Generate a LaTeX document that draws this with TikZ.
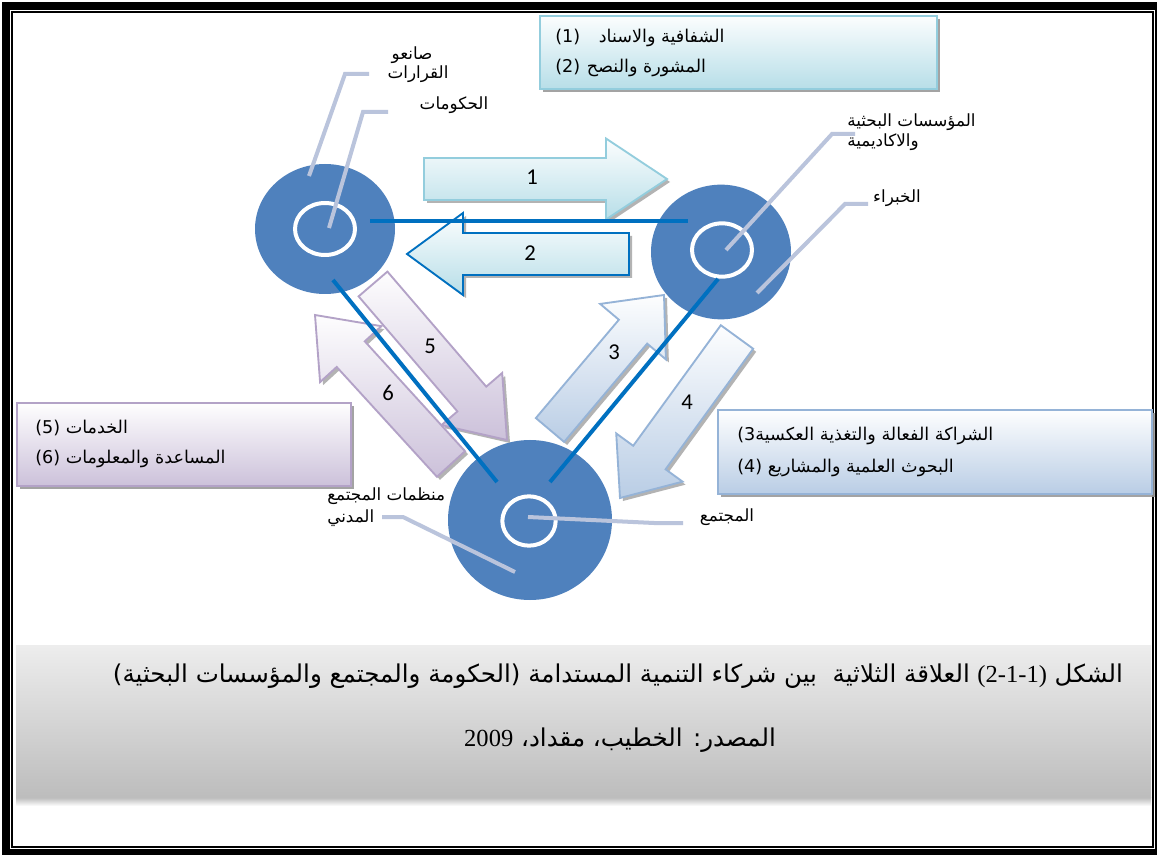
\documentclass[tikz,border=0pt]{standalone}
\usepackage{fontspec}
\newfontfamily\arabicfont[Script=Arabic]{DejaVu Sans}
\newfontfamily\latinsans{DejaVu Sans}
\newfontfamily\latinserif{Liberation Serif}
\newfontfamily\numfont{Carlito}
\TeXXeTstate=1
\usetikzlibrary{shapes.geometric,shadows}

\definecolor{hubblue}{HTML}{4F81BD}
\definecolor{linkblue}{HTML}{0070C0}
\definecolor{callgray}{HTML}{BAC4DC}
\definecolor{aquaL}{HTML}{B7DEE8}
\definecolor{aquaD}{HTML}{93CDDD}
\definecolor{lilacL}{HTML}{CCC1DA}
\definecolor{lilacD}{HTML}{B3A2C7}
\definecolor{steelL}{HTML}{B9CDE5}
\definecolor{steelD}{HTML}{95B3D7}
\definecolor{shadowgray}{HTML}{9A9A9A}

% block arrow: name, style, tail x, tail y, tip x, tip y, body width, head width, head length
\newcommand\blockarrow[9]{%
  \pgfmathsetmacro\baDX{#5-#3}%
  \pgfmathsetmacro\baDY{#6-#4}%
  \pgfmathsetmacro\baLen{veclen(\baDX,\baDY)}%
  \pgfmathsetmacro\baUX{\baDX/\baLen}%
  \pgfmathsetmacro\baUY{\baDY/\baLen}%
  \pgfmathsetmacro\baBX{#5-#9*\baUX}%
  \pgfmathsetmacro\baBY{#6-#9*\baUY}%
  \pgfmathsetmacro\baW{#7/2}%
  \pgfmathsetmacro\baH{#8/2}%
  \coordinate (#1-t1) at ({#3-\baW*\baUY},{#4+\baW*\baUX});
  \coordinate (#1-t2) at ({#3+\baW*\baUY},{#4-\baW*\baUX});
  \coordinate (#1-b1) at ({\baBX-\baW*\baUY},{\baBY+\baW*\baUX});
  \coordinate (#1-b2) at ({\baBX+\baW*\baUY},{\baBY-\baW*\baUX});
  \coordinate (#1-h1) at ({\baBX-\baH*\baUY},{\baBY+\baH*\baUX});
  \coordinate (#1-h2) at ({\baBX+\baH*\baUY},{\baBY-\baH*\baUX});
  \coordinate (#1-tip) at (#5,#6);
  \fill[shadowgray, opacity=0.75]
    ([shift={(3,3)}]#1-t1) -- ([shift={(3,3)}]#1-b1) -- ([shift={(3,3)}]#1-h1)
    -- ([shift={(3,3)}]#1-tip) -- ([shift={(3,3)}]#1-h2) -- ([shift={(3,3)}]#1-b2)
    -- ([shift={(3,3)}]#1-t2) -- cycle;
  \path[#2] (#1-t1) -- (#1-b1) -- (#1-h1) -- (#1-tip) -- (#1-h2) -- (#1-b2) -- (#1-t2) -- cycle;
}

\begin{document}
\begin{tikzpicture}[x=0.75pt,y=-0.75pt,
  hub/.style={ellipse, fill=hubblue, inner sep=0pt},
  ring/.style={ellipse, draw=white, line width=3pt, inner sep=0pt},
  link/.style={draw=linkblue, line width=3pt},
  callout/.style={draw=callgray, line width=3pt},
  aquaarrow/.style={top color=white!96!aquaL, bottom color=aquaL, draw=aquaD, line width=1.4pt, line join=miter},
  bluearrow/.style={top color=white!96!aquaL, bottom color=aquaL, draw=linkblue, line width=1.4pt, line join=miter},
  lilacarrow/.style={top color=white!97!lilacL, bottom color=lilacL, draw=lilacD, line width=1.4pt, line join=miter},
  steelarrow/.style={top color=white!97!steelL, bottom color=steelL, draw=steelD, line width=1.4pt, line join=miter},
  legend/.style={rectangle, inner sep=0pt, line width=1.6pt,
    drop shadow={shadow xshift=2.5pt, shadow yshift=-2.5pt, fill=shadowgray, opacity=0.9}},
  lbl/.style={font=\arabicfont\fontsize{12.6}{14}\selectfont, inner sep=0pt},
  boxtxt/.style={font=\arabicfont\fontsize{13.2}{15}\selectfont, inner sep=0pt, anchor=west},
  num/.style={font=\numfont\fontsize{17}{20}\selectfont, inner sep=0pt},
  captxt/.style={font=\arabicfont\fontsize{18.4}{22}\selectfont, inner sep=0pt}]

\useasboundingbox (0,0) rectangle (1157,855);
\fill[white] (0,0) rectangle (1157,855);

% page frame
\draw[line width=6.2pt] (6,6) rectangle (1159,853);
\draw[line width=1.5pt] (12,12) rectangle (1153,847);

% the three partners
\node[hub, minimum width=105pt, minimum height=97.5pt] (gov) at (325,229) {};
\node[hub, minimum width=105pt, minimum height=101pt] (res) at (721,252) {};
\node[hub, minimum width=123pt, minimum height=120pt] (soc) at (530,520) {};
\node[ring, minimum width=45pt, minimum height=39pt] (govring) at (325,229) {};
\node[ring, minimum width=45pt, minimum height=40pt] (resring) at (722,250) {};
\node[ring, minimum width=40pt, minimum height=37pt] (socring) at (529,521) {};

% flow arrows
\blockarrow{a1}{aquaarrow}{424}{179}{667}{179}{42}{81}{61}
\blockarrow{a2}{bluearrow}{629}{254}{407}{254}{42}{82}{56}
\blockarrow{a5}{lilacarrow}{373}{284}{507}{440}{38}{80}{54}
\blockarrow{a6}{lilacarrow}{451}{464}{315}{315}{38}{83}{53}
\blockarrow{a3}{steelarrow}{550}{430}{664}{295}{37}{86}{48}
\blockarrow{a4}{steelarrow}{737}{337}{620}{498}{40}{82}{50}

\node[num] (n1) at (532,177) {1};
\node[num] (n2) at (530,253) {2};
\node[num] (n3) at (614,352) {3};
\node[num] (n4) at (687,402) {4};
\node[num] (n5) at (430,346) {5};
\node[num] (n6) at (388,393) {6};

% links between partners
\coordinate (ab1) at (370,221); \coordinate (ab2) at (688,221);
\coordinate (ac1) at (333,280); \coordinate (ac2) at (497,482);
\coordinate (bc1) at (718,279); \coordinate (bc2) at (550,482);
\draw[link] (ab1) -- (ab2);
\draw[link] (ac1) -- (ac2);
\draw[link] (bc1) -- (bc2);

% callout leaders
\coordinate (c1a) at (309,176); \coordinate (c1b) at (345,74); \coordinate (c1c) at (369,74);
\coordinate (c2a) at (329,228); \coordinate (c2b) at (363,112); \coordinate (c2c) at (388,112);
\coordinate (c3a) at (726,250); \coordinate (c3b) at (832,134); \coordinate (c3c) at (855,134);
\coordinate (c4a) at (757,293); \coordinate (c4b) at (845,204); \coordinate (c4c) at (868,204);
\coordinate (c5a) at (528,517); \coordinate (c5b) at (654,523); \coordinate (c5c) at (683,523);
\coordinate (c6a) at (515,572); \coordinate (c6b) at (403,517); \coordinate (c6c) at (382,517);
\draw[callout] (c1a) -- (c1b) -- (c1c);
\draw[callout] (c2a) -- (c2b) -- (c2c);
\draw[callout] (c3a) -- (c3b) -- (c3c);
\draw[callout] (c4a) -- (c4b) -- (c4c);
\draw[callout] (c5a) -- (c5b) -- (c5c);
\draw[callout] (c6a) -- (c6b) -- (c6c);

% partner labels
\node[lbl] (l1a) at (412,55) {\beginR صانعو\endR};
\node[lbl] (l1b) at (418,74) {\beginR القرارات\endR};
\node[lbl] (l2) at (454,105) {\beginR الحكومات\endR};
\node[lbl, anchor=west] (l3a) at (847,122) {\beginR المؤسسات البحثية\endR};
\node[lbl, anchor=west] (l3b) at (847,142) {\beginR والاكاديمية\endR};
\node[lbl] (l4) at (897,198) {\beginR الخبراء\endR};
\node[lbl] (l5) at (727,517) {\beginR المجتمع\endR};
\node[lbl, anchor=west] (l6a) at (327,496) {\beginR منظمات المجتمع\endR};
\node[lbl, anchor=west] (l6b) at (327,518) {\beginR المدني\endR};

% legend boxes
\node[legend, top color=white!95!aquaL, bottom color=aquaL, draw=aquaD,
  minimum width=297.75pt, minimum height=54.75pt] (box12) at (738.5,52.5) {};
\node[boxtxt] (t1) at (555,38) {\beginR الشفافية والاسناد\hspace{14pt}\beginL{\latinsans(1)}\endL\endR};
\node[boxtxt] (t2) at (555,68) {\beginR المشورة والنصح\hspace{5pt}\beginL{\latinsans(2)}\endL\endR};

\node[legend, top color=white!98!lilacL, bottom color=lilacL, draw=lilacD,
  minimum width=250.5pt, minimum height=62pt] (box56) at (184,444.5) {};
\node[boxtxt] (t5) at (35,428) {\beginR الخدمات \beginL{\latinsans(5)}\endL\endR};
\node[boxtxt] (t6) at (35,459) {\beginR المساعدة والمعلومات \beginL{\latinsans(6)}\endL\endR};

\node[legend, top color=white!98!steelL, bottom color=steelL, draw=steelD,
  minimum width=325.5pt, minimum height=63pt] (box34) at (935,452) {};
\node[boxtxt] (t3) at (737,436) {\beginR الشراكة الفعالة والتغذية العكسية\beginL{\latinsans (3}\endL\endR};
\node[boxtxt] (t4) at (737,468) {\beginR البحوث العلمية والمشاريع \beginL{\latinsans(4)}\endL\endR};

% caption panel
\fill[top color=black!28, bottom color=white] (16,797) rectangle (1151,806);
\node[rectangle, inner sep=0pt, top color=black!7, bottom color=black!26,
  minimum width=851.25pt, minimum height=114pt] (capbox) at (583.5,721) {};
\node[captxt] (cap1) at (618,676) {\beginR الشكل \beginL{\latinserif (2-1-1)}\endL{} العلاقة الثلاثية\ \ بين شركاء التنمية المستدامة (الحكومة والمجتمع والمؤسسات البحثية)\endR};
\node[captxt] (cap2) at (620,740) {\beginR المصدر: الخطيب، مقداد، \beginL{\latinserif 2009}\endL\endR};
\end{tikzpicture}
\end{document}
